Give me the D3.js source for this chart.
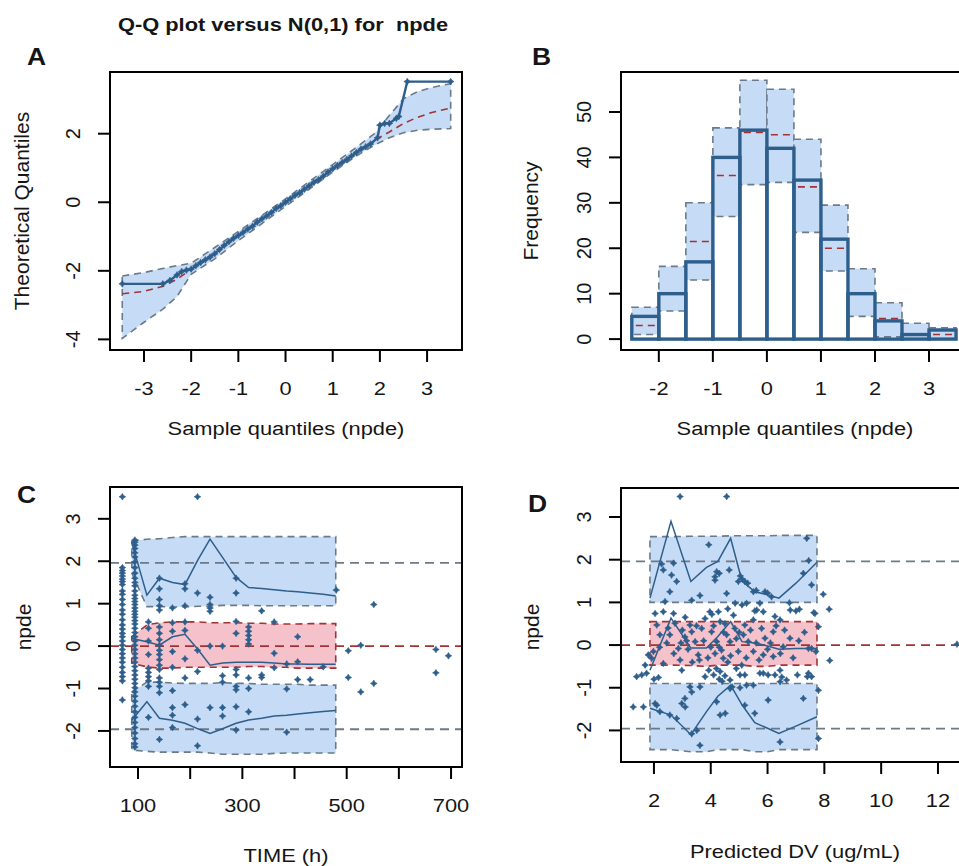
<!DOCTYPE html>
<html lang="en">
<head>
<meta charset="UTF-8">
<title>npde diagnostics</title>
<script src="https://cdn.jsdelivr.net/npm/d3@7/dist/d3.min.js"></script>
<style>
    body { margin: 0; background: #fff; }
    svg text { font-family: "Liberation Sans", Arial, sans-serif; fill: #151515; }
</style>
</head>
<body>
<svg width="959" height="866"></svg>
<script>
    // ---------- values ----------

    // A: Q-Q plot - prediction band of quantiles and the observed npde
    var qqBandX   = [-3.46, -3.0, -2.6, -2.3, -2.0, -1.5, -1.0, -0.5, 0, 0.5, 1.0, 1.5, 1.9, 2.2, 2.5, 2.8, 3.1, 3.5];
    var qqBandLo  = [-3.97, -3.5, -3.12, -2.75, -2.1, -1.65, -1.12, -0.62, -0.12, 0.38, 0.88, 1.35, 1.68, 1.88, 2.03, 2.1, 2.13, 2.15];
    var qqBandMed = [-2.67, -2.6, -2.45, -2.25, -1.95, -1.48, -0.98, -0.5, 0, 0.48, 0.97, 1.45, 1.82, 2.05, 2.3, 2.48, 2.62, 2.75];
    var qqBandHi  = [-2.15, -2.05, -1.93, -1.85, -1.78, -1.32, -0.85, -0.38, 0.1, 0.6, 1.1, 1.6, 2.02, 2.53, 3.02, 3.23, 3.35, 3.46];
    var qqObsX = [-3.46, -2.6, -2.45, -2.3, -2.2, -2.1, -2.0, -1.9, -1.8, -1.7, -1.6, -1.5, -1.4, -1.3, -1.2, -1.1,
                  -1.0, -0.9, -0.8, -0.7, -0.6, -0.5, -0.4, -0.3, -0.2, -0.1, 0, 0.1, 0.2, 0.3, 0.4, 0.5, 0.6, 0.7,
                  0.8, 0.9, 1.0, 1.1, 1.2, 1.3, 1.4, 1.5, 1.6, 1.7, 1.8, 1.95, 2.0, 2.1, 2.2, 2.35, 2.4, 2.58, 3.5];
    var qqObsY = [-2.38, -2.38, -2.28, -2.12, -2.02, -1.98, -1.95, -1.85, -1.76, -1.68, -1.6, -1.5, -1.38, -1.26, -1.15, -1.05,
                  -0.97, -0.88, -0.78, -0.7, -0.58, -0.48, -0.4, -0.3, -0.18, -0.1, 0.0, 0.1, 0.2, 0.28, 0.38, 0.48, 0.58, 0.66,
                  0.76, 0.88, 0.98, 1.07, 1.16, 1.25, 1.35, 1.45, 1.55, 1.62, 1.7, 1.88, 2.25, 2.3, 2.3, 2.45, 2.5, 3.52, 3.52];

    // B: histogram of npde with prediction intervals per bin
    var histBreaks = [-2.5, -2, -1.5, -1, -0.5, 0, 0.5, 1, 1.5, 2, 2.5, 3, 3.5];
    var histObs = [5, 10, 17, 40, 46, 42, 35, 22, 10, 4, 1, 2];
    var histLo  = [1, 6.2, 13, 27, 34, 34.5, 23.5, 15, 5, 0.5, 0, 0];
    var histMed = [3, 10, 21.5, 36, 45.5, 45, 33.5, 20, 10, 4.5, 1, 1];
    var histHi  = [7, 16, 30, 46.5, 57, 55, 44, 29.5, 15.5, 8, 3.5, 2.5];

    // C: npde versus time
    var cBinX   = [88, 117, 141, 166, 190, 215, 238, 262, 288, 312, 337, 361, 385, 406, 430, 455, 479];
    var cUpLo   = [1.72, 0.93, 0.93, 0.92, 0.92, 0.94, 0.94, 0.96, 0.96, 0.96, 0.95, 0.95, 0.95, 0.95, 0.95, 0.95, 0.95];
    var cUpHi   = [2.47, 2.52, 2.53, 2.56, 2.58, 2.58, 2.58, 2.58, 2.58, 2.58, 2.58, 2.58, 2.58, 2.58, 2.58, 2.58, 2.58];
    var cMidLo  = [-0.4, -0.49, -0.52, -0.52, -0.5, -0.5, -0.5, -0.5, -0.5, -0.48, -0.48, -0.5, -0.5, -0.52, -0.52, -0.52, -0.52];
    var cMidHi  = [0.22, 0.5, 0.55, 0.57, 0.57, 0.57, 0.55, 0.55, 0.55, 0.54, 0.54, 0.52, 0.52, 0.52, 0.53, 0.53, 0.53];
    var cLowLo  = [-2.45, -2.48, -2.5, -2.5, -2.5, -2.5, -2.52, -2.55, -2.55, -2.55, -2.55, -2.53, -2.52, -2.52, -2.52, -2.52, -2.52];
    var cLowHi  = [-1.08, -0.85, -0.85, -0.87, -0.88, -0.88, -0.88, -0.86, -0.88, -0.88, -0.9, -0.9, -0.9, -0.9, -0.92, -0.92, -0.92];
    var cObsHi  = [2.45, 1.2, 1.6, 1.5, 1.45, 2.04, 2.52, 2.09, 1.62, 1.38, 1.36, 1.33, 1.3, 1.28, 1.25, 1.22, 1.18];
    var cObsMed = [0.18, 0.1, 0.02, 0.22, 0.28, -0.08, -0.45, -0.4, -0.38, -0.38, -0.38, -0.4, -0.42, -0.42, -0.43, -0.43, -0.43];
    var cObsLow = [-1.75, -1.31, -1.7, -1.75, -1.82, -1.95, -2.06, -1.95, -1.82, -1.74, -1.7, -1.65, -1.63, -1.6, -1.57, -1.54, -1.52];
    var cTimes = [70, 94, 120, 141, 166, 190, 214, 238, 262, 288, 312, 337, 361, 385, 406, 430, 455, 480, 503, 527, 552, 671, 695];
    var cNpde = [
        [3.52, 1.85, 1.78, 1.72, 1.65, 1.58, 1.52, 1.45, 1.3, 1.22, 1.1, 0.98, 0.85, 0.75, 0.62, 0.5, 0.4, 0.3, 0.22, 0.12,
         0.02, -0.08, -0.18, -0.28, -0.38, -0.5, -0.62, -0.72, -0.82, -1.27],
        [2.5, 2.45, 2.38, 2.3, 2.2, 2.1, 1.98, 1.85, 1.72, 1.6, 1.5, 1.42, 1.3, 1.2, 1.12, 1.05, 0.98, 0.9, 0.82, 0.75,
         0.68, 0.6, 0.52, 0.42, 0.32, 0.22, 0.12, 0.02, -0.08, -0.18, -0.28, -0.38, -0.48, -0.58, -0.68, -0.78, -0.88,
         -0.98, -1.08, -1.18, -1.3, -1.42, -1.55, -1.68, -1.8, -1.92, -2.05, -2.18, -2.3, -2.38],
        [0.57, 0.42, 0.12, -0.2, -0.52, -0.62, -0.72, -0.82, -0.95, -1.68],
        [1.6, 1.35, 1.1, 0.95, 0.85, 0.45, 0.3, 0.15, 0.02, -0.1, -0.2, -0.32, -0.45, -0.55, -0.75, -0.85, -0.95, -1.1, -2.2],
        [0.9, 0.55, 0.35, -0.13, -0.5, -1.05, -1.45, -1.63, -1.92],
        [1.47, 1.35, 0.95, 0.57, 0.37, -0.3, -0.75, -1.38],
        [3.52, 1.25, -0.1, -0.6, -1.72, -2.35],
        [1.15, 0.98, 0.9, 0.82, 0.0, -1.45],
        [0.0, -0.7, -0.85, -1.45, -1.65],
        [1.6, 1.25, 0.58, 0.3, -0.55, -0.68, -0.95, -1.03, -1.43, -1.98],
        [0.45, 0.35, 0.25, 0.15, 0.05, -0.75, -1.0, -1.55],
        [0.83, -0.68, -0.74],
        [0.57, -0.17, -0.51],
        [-0.42, -1.01, -2.03],
        [0.22, -0.37, -0.79],
        [-0.79],
        [-0.49],
        [1.32],
        [-0.11, -0.74],
        [0.02, -1.08],
        [0.98, -0.88],
        [-0.08, -0.63],
        [-0.23]
    ];

    // D: npde versus population predictions
    var dBinX   = [1.86, 2.6, 3.3, 3.85, 4.25, 4.7, 5.1, 5.55, 6.0, 6.4, 7.0, 7.74];
    var dUpLo   = [1.0, 1.0, 1.0, 1.0, 1.0, 1.0, 1.0, 1.0, 1.0, 1.0, 1.0, 1.0];
    var dUpHi   = [2.54, 2.54, 2.55, 2.55, 2.55, 2.56, 2.56, 2.56, 2.56, 2.57, 2.57, 2.57];
    var dMidLo  = [-0.47, -0.47, -0.48, -0.5, -0.47, -0.47, -0.47, -0.5, -0.5, -0.47, -0.47, -0.47];
    var dMidHi  = [0.55, 0.55, 0.55, 0.55, 0.55, 0.55, 0.55, 0.55, 0.55, 0.55, 0.55, 0.55];
    var dLowLo  = [-2.45, -2.45, -2.5, -2.5, -2.45, -2.45, -2.45, -2.5, -2.5, -2.45, -2.45, -2.45];
    var dLowHi  = [-0.9, -0.9, -0.9, -0.9, -0.9, -0.9, -0.9, -0.9, -0.9, -0.9, -0.9, -0.9];
    var dObsHi  = [1.1, 2.9, 1.49, 1.82, 1.96, 2.5, 1.5, 1.25, 1.18, 1.1, 1.45, 1.94];
    var dObsMed = [-0.59, 0.63, -0.07, -0.07, 0.2, 0.55, 0.08, 0.05, -0.02, -0.1, -0.08, -0.08];
    var dObsLow = [-1.48, -1.64, -2.1, -1.56, -1.2, -0.94, -1.4, -1.82, -1.95, -2.07, -1.9, -1.68];
    var dPoints = [
        [2.92, 3.48], [4.56, 3.48], [3.93, 2.35], [2.33, 1.76], [2.62, 1.64], [2.8, 1.49], [2.69, 1.92], [2.56, 1.25],
        [2.39, 1.02], [3.33, 1.05], [3.62, 1.16], [4.15, 1.52], [4.21, 1.72], [4.3, 1.68], [4.15, 1.6], [4.56, 1.21],
        [4.97, 1.49], [4.65, 1.76], [5.2, 1.49], [5.5, 1.25], [5.91, 1.25], [6.14, 1.13], [7.55, 1.41], [7.26, 1.68],
        [7.96, 1.19], [7.38, 2.5], [4.86, 0.98], [6.77, 0.99], [5.26, 0.98], [5.73, 0.98], [5.04, 1.62], [5.1, 1.55],
        [5.3, 1.45], [5.6, 1.28], [6.0, 1.22], [2.27, 1.9], [7.45, 1.98],
        [2.04, 0.74], [2.33, 0.78], [2.69, 0.74], [8.17, 0.84], [7.12, 0.84], [7.67, 0.74], [5.55, 0.8], [5.85, 0.78],
        [6.26, 0.67], [6.44, 0.59], [4.04, 0.72], [4.27, 0.78], [4.6, 0.85], [5.1, 0.94], [5.62, 0.82], [6.8, 0.82],
        [7.0, 0.8], [3.97, 0.78], [3.8, 0.62], [2.74, 0.51], [4.33, 0.55], [5.5, 0.59], [7.63, 0.76], [4.8, 0.7], [3.1, 0.65],
        [2.1, 0.47], [2.21, 0.24], [1.98, -0.15], [1.92, -0.31], [1.69, -0.47], [1.8, -0.23], [2.56, 0.24], [2.86, -0.08],
        [2.92, -0.35], [3.09, 0.19], [3.27, 0.47], [3.33, 0.31], [3.45, 0.08], [3.56, -0.23], [3.68, 0.39], [4.03, 0.31],
        [4.21, 0.08], [4.38, -0.12], [4.44, -0.31], [4.56, 0.24], [4.68, 0.08], [4.85, 0.39], [4.97, -0.15], [5.09, -0.47],
        [5.2, 0.47], [5.79, 0.39], [5.15, 0.24], [5.32, 0.08], [5.91, 0.16], [6.2, 0.31], [6.55, -0.04], [6.79, 0.16],
        [7.44, -0.08], [7.55, -0.08], [7.79, 0.43], [8.19, -0.36], [5.5, -0.15], [5.85, -0.23], [6.2, -0.27], [2.33, -0.43],
        [2.45, 0.05], [2.7, -0.2], [3.0, 0.35], [3.2, -0.1], [3.5, 0.45], [3.75, 0.1], [3.9, -0.3], [4.1, 0.45],
        [4.3, -0.05], [4.5, 0.5], [4.7, -0.25], [4.9, 0.15], [5.0, 0.3], [5.4, 0.35], [5.6, 0.05], [6.0, -0.1],
        [6.3, 0.45], [6.6, 0.35], [6.9, -0.3], [7.1, 0.1], [7.3, 0.3], [2.2, -0.05], [3.6, -0.35], [4.15, -0.2],
        [4.6, -0.4], [5.25, -0.3], [6.45, -0.2], [7.7, -0.15], [2.5, 0.4], [3.15, 0.1], [4.45, 0.3], [5.7, -0.35],
        [6.1, 0.05], [4.0, -0.05], [3.35, -0.4], [2.95, 0.05],
        [1.39, -0.74], [1.57, -0.7], [1.74, -0.66], [2.98, -0.59], [3.8, -0.74], [4.33, -0.62], [4.68, -0.82], [5.03, -0.7],
        [5.2, -0.7], [5.73, -0.66], [5.85, -0.66], [6.26, -0.7], [6.44, -0.59], [6.67, -0.82], [7.44, -0.66], [7.55, -0.74],
        [2.16, -0.76], [3.93, -0.59], [4.1, -0.7], [4.3, -0.8], [4.5, -0.72], [4.9, -0.55], [6.02, -0.7], [6.5, -0.75],
        [7.05, -0.7], [7.4, -0.74], [2.0, -0.8], [4.2, -0.55], [4.4, -0.85],
        [1.27, -1.45], [1.63, -1.45], [2.1, -1.41], [2.21, -1.56], [2.56, -1.64], [2.8, -1.72], [3.09, -1.25], [3.27, -0.98],
        [3.33, -1.1], [3.62, -0.98], [2.98, -1.37], [3.51, -2.0], [3.33, -2.08], [3.62, -2.35], [4.21, -1.33], [4.33, -1.64],
        [4.68, -1.02], [7.79, -1.06], [5.26, -0.94], [5.5, -0.94], [6.44, -0.86], [7.26, -1.25], [6.02, -1.29], [5.2, -1.41],
        [5.55, -1.6], [6.44, -2.27], [7.79, -2.19], [2.04, -1.37], [3.1, -1.45], [4.51, -1.6], [4.75, -0.98], [5.03, -1.0],
        [12.67, 0.02]
    ];

    // ---------- drawing ----------
    var svg = d3.select("svg");
    var blueFill = "#c6dbf5", pinkFill = "#f5c1ca", bandLine = "#6b7a89",
        medLine = "#a33333", obsColor = "#2d5e8c", dashes = "7,5";
    var xStretch = 1.15; // text in the figure is wider than it is tall

    // small four-pointed star, like the R plotting symbol in the figure
    var starFour = {
        draw: function (context, size) {
            var r = Math.sqrt(size) / 1.4, s = r * 0.38;
            context.moveTo(0, -r);
            context.lineTo(s, -s);
            context.lineTo(r, 0);
            context.lineTo(s, s);
            context.lineTo(0, r);
            context.lineTo(-s, s);
            context.lineTo(-r, 0);
            context.lineTo(-s, -s);
            context.closePath();
        }
    };
    var mark = d3.symbol().type(starFour).size(22);

    function addText(x, y, str, size, weight, anchor) {
        svg.append("text")
            .attr("transform", "translate(" + x + "," + y + ") scale(" + xStretch + ",1)")
            .attr("text-anchor", anchor || "middle")
            .style("font-size", size + "px")
            .style("font-weight", weight || "normal")
            .style("white-space", "pre")
            .text(str);
    }

    function addVText(x, y, str, size) {
        svg.append("text")
            .attr("transform", "translate(" + x + "," + y + ") rotate(-90)")
            .attr("text-anchor", "middle")
            .style("font-size", size + "px")
            .text(str);
    }

    function drawAxes(box, xScale, yScale, xTicks, xShown, yTicks) {
        var g = svg.append("g").attr("stroke", "#000").attr("stroke-width", 2);
        g.append("rect")
            .attr("x", box.x0).attr("y", box.y0)
            .attr("width", box.x1 - box.x0).attr("height", box.y1 - box.y0)
            .attr("fill", "none");
        xTicks.forEach(function (t) {
            g.append("line")
                .attr("x1", xScale(t)).attr("x2", xScale(t))
                .attr("y1", box.y1).attr("y2", box.y1 + 12);
            if (xShown.indexOf(t) >= 0) addText(xScale(t), box.y1 + 45, String(t), 19);
        });
        yTicks.forEach(function (t) {
            g.append("line")
                .attr("x1", box.x0 - 12).attr("x2", box.x0)
                .attr("y1", yScale(t)).attr("y2", yScale(t));
            addVText(box.x0 - 30, yScale(t), String(t), 20);
        });
    }

    function bandArea(xs, xScale, yScale, lo, hi) {
        return d3.area()
            .x(function (d, i) { return xScale(xs[i]); })
            .y0(function (d, i) { return yScale(lo[i]); })
            .y1(function (d, i) { return yScale(hi[i]); })(xs) + "Z";
    }

    function linePath(xs, ys, xScale, yScale) {
        return d3.line()
            .x(function (d, i) { return xScale(xs[i]); })
            .y(function (d, i) { return yScale(ys[i]); })(xs);
    }

    function drawBand(g, path, fill, edge) {
        g.append("path").attr("d", path).attr("fill", fill)
            .attr("stroke", edge).attr("stroke-width", 1.6).attr("stroke-dasharray", dashes);
    }

    function drawPoints(g, pts, xScale, yScale) {
        g.selectAll(".pt").data(pts).enter().append("path")
            .attr("class", "pt")
            .attr("transform", function (d) { return "translate(" + xScale(d[0]) + "," + yScale(d[1]) + ")"; })
            .attr("d", mark)
            .attr("fill", obsColor)
            .attr("stroke", obsColor).attr("stroke-width", 0.6);
    }

    // ----- panel A -----
    var boxA = {x0: 110, x1: 462, y0: 72, y1: 350};
    var xA = d3.scaleLinear().domain([-3.72, 3.74]).range([boxA.x0, boxA.x1]);
    var yA = d3.scaleLinear().domain([-4.31, 3.80]).range([boxA.y1, boxA.y0]);
    var gA = svg.append("g");
    drawBand(gA, bandArea(qqBandX, xA, yA, qqBandLo, qqBandHi), blueFill, bandLine);
    gA.append("path").attr("d", linePath(qqBandX, qqBandMed, xA, yA))
        .attr("fill", "none").attr("stroke", medLine).attr("stroke-width", 1.6).attr("stroke-dasharray", dashes);
    gA.append("path").attr("d", linePath(qqObsX, qqObsY, xA, yA))
        .attr("fill", "none").attr("stroke", obsColor).attr("stroke-width", 2.4);
    drawPoints(gA, qqObsX.map(function (v, i) { return [v, qqObsY[i]]; }), xA, yA);
    drawAxes(boxA, xA, yA, [-3, -2, -1, 0, 1, 2, 3], [-3, -2, -1, 0, 1, 2, 3], [-4, -2, 0, 2]);

    // ----- panel B -----
    var boxB = {x0: 621, x1: 969, y0: 72, y1: 350};
    var xB = d3.scaleLinear().domain([-2.70, 3.74]).range([boxB.x0, boxB.x1]);
    var yB = d3.scaleLinear().domain([-2.4, 58.8]).range([boxB.y1, boxB.y0]);
    var gB = svg.append("g");
    var bins = d3.range(histObs.length);
    gB.selectAll(".pi").data(bins).enter().append("rect")
        .attr("x", function (i) { return xB(histBreaks[i]); })
        .attr("width", function (i) { return xB(histBreaks[i + 1]) - xB(histBreaks[i]); })
        .attr("y", function (i) { return yB(histHi[i]); })
        .attr("height", function (i) { return yB(histLo[i]) - yB(histHi[i]); })
        .attr("fill", blueFill).attr("stroke", bandLine)
        .attr("stroke-width", 1.6).attr("stroke-dasharray", dashes);
    gB.selectAll(".med").data(bins).enter().append("line")
        .attr("x1", function (i) { return xB(histBreaks[i]) + 4; })
        .attr("x2", function (i) { return xB(histBreaks[i + 1]) - 2; })
        .attr("y1", function (i) { return yB(histMed[i]); })
        .attr("y2", function (i) { return yB(histMed[i]); })
        .attr("stroke", medLine).attr("stroke-width", 1.6).attr("stroke-dasharray", dashes);
    gB.selectAll(".bar").data(bins).enter().append("rect")
        .attr("x", function (i) { return xB(histBreaks[i]); })
        .attr("width", function (i) { return xB(histBreaks[i + 1]) - xB(histBreaks[i]); })
        .attr("y", function (i) { return yB(histObs[i]); })
        .attr("height", function (i) { return yB(0) - yB(histObs[i]); })
        .attr("fill", "none").attr("stroke", obsColor).attr("stroke-width", 3.4);
    drawAxes(boxB, xB, yB, [-2, -1, 0, 1, 2, 3], [-2, -1, 0, 1, 2, 3], [0, 10, 20, 30, 40, 50]);

    // ----- panel C -----
    var boxC = {x0: 110, x1: 462, y0: 487, y1: 767};
    var xC = d3.scaleLinear().domain([46.3, 721]).range([boxC.x0, boxC.x1]);
    var yC = d3.scaleLinear().domain([-2.85, 3.75]).range([boxC.y1, boxC.y0]);
    var gC = svg.append("g");
    drawBand(gC, bandArea(cBinX, xC, yC, cUpLo, cUpHi), blueFill, bandLine);
    drawBand(gC, bandArea(cBinX, xC, yC, cLowLo, cLowHi), blueFill, bandLine);
    drawBand(gC, bandArea(cBinX, xC, yC, cMidLo, cMidHi), pinkFill, medLine);
    [[1.96, bandLine], [-1.96, bandLine], [0, medLine]].forEach(function (r) {
        gC.append("line").attr("x1", boxC.x0).attr("x2", boxC.x1)
            .attr("y1", yC(r[0])).attr("y2", yC(r[0]))
            .attr("stroke", r[1]).attr("stroke-width", 1.8).attr("stroke-dasharray", "9,6");
    });
    var cPts = [];
    cTimes.forEach(function (t, i) { cNpde[i].forEach(function (v) { cPts.push([t, v]); }); });
    drawPoints(gC, cPts, xC, yC);
    [cObsHi, cObsMed, cObsLow].forEach(function (ys) {
        gC.append("path").attr("d", linePath(cBinX, ys, xC, yC))
            .attr("fill", "none").attr("stroke", obsColor).attr("stroke-width", 1.5);
    });
    drawAxes(boxC, xC, yC, [100, 200, 300, 400, 500, 600, 700], [100, 300, 500, 700], [-2, -1, 0, 1, 2, 3]);

    // ----- panel D -----
    var boxD = {x0: 621, x1: 980, y0: 488, y1: 762};
    var xD = d3.scaleLinear().domain([0.84, 13.48]).range([boxD.x0, boxD.x1]);
    var yD = d3.scaleLinear().domain([-2.74, 3.68]).range([boxD.y1, boxD.y0]);
    var gD = svg.append("g");
    drawBand(gD, bandArea(dBinX, xD, yD, dUpLo, dUpHi), blueFill, bandLine);
    drawBand(gD, bandArea(dBinX, xD, yD, dLowLo, dLowHi), blueFill, bandLine);
    drawBand(gD, bandArea(dBinX, xD, yD, dMidLo, dMidHi), pinkFill, medLine);
    [[1.96, bandLine], [-1.96, bandLine], [0, medLine]].forEach(function (r) {
        gD.append("line").attr("x1", boxD.x0).attr("x2", boxD.x1)
            .attr("y1", yD(r[0])).attr("y2", yD(r[0]))
            .attr("stroke", r[1]).attr("stroke-width", 1.8).attr("stroke-dasharray", "9,6");
    });
    drawPoints(gD, dPoints, xD, yD);
    [dObsHi, dObsMed, dObsLow].forEach(function (ys) {
        gD.append("path").attr("d", linePath(dBinX, ys, xD, yD))
            .attr("fill", "none").attr("stroke", obsColor).attr("stroke-width", 1.5);
    });
    drawAxes(boxD, xD, yD, [2, 4, 6, 8, 10, 12], [2, 4, 6, 8, 10, 12], [-2, -1, 0, 1, 2, 3]);

    // ----- titles and labels -----
    addText(283, 31, "Q-Q plot versus N(0,1) for  npde", 19, "bold");
    addText(27, 65, "A", 23, "bold", "start");
    addText(532, 65, "B", 23, "bold", "start");
    addText(17, 503, "C", 23, "bold", "start");
    addText(528, 512, "D", 23, "bold", "start");

    addText(286, 435, "Sample quantiles (npde)", 19);
    addText(795, 435, "Sample quantiles (npde)", 19);
    addText(286, 862, "TIME (h)", 19);
    addText(795, 858, "Predicted DV (ug/mL)", 19);

    addVText(29, 211, "Theoretical Quantiles", 21);
    addVText(538, 211, "Frequency", 21);
    addVText(31, 627, "npde", 21);
    addVText(539, 627, "npde", 21);
</script>
</body>
</html>
